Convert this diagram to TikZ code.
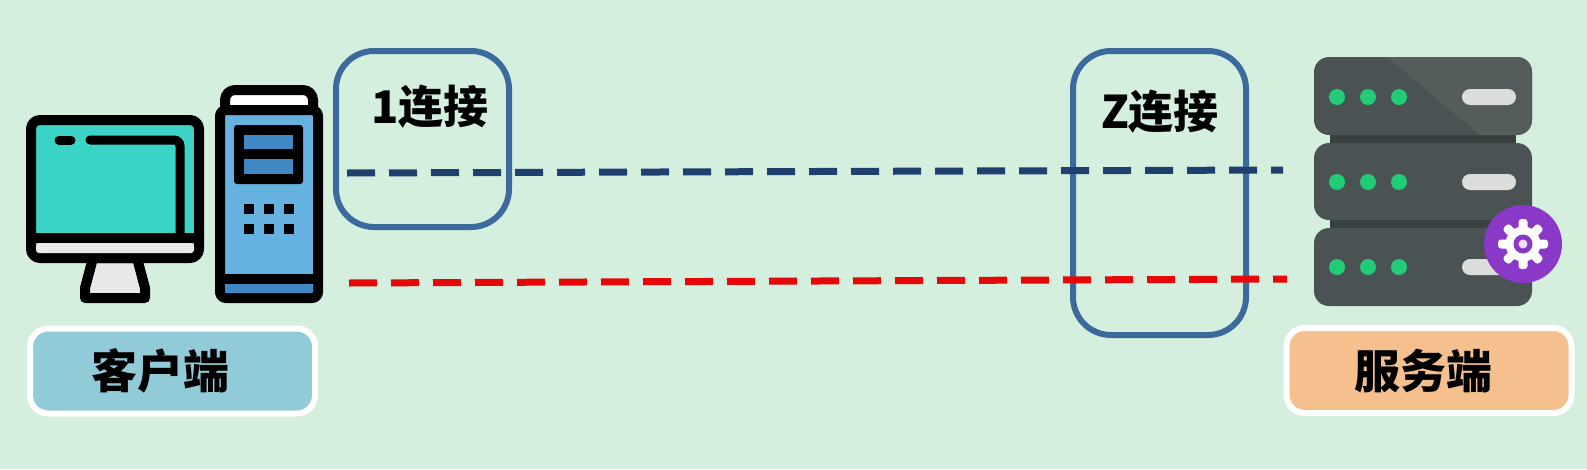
\documentclass[tikz,border=0pt]{standalone}
\usepackage{fontspec}
\newfontfamily\cjk{Noto Sans CJK SC}
\definecolor{bgc}{HTML}{D4EFDD}
\definecolor{boxc}{HTML}{3D6A9C}
\definecolor{bluedash}{HTML}{1F3F6F}
\definecolor{reddash}{HTML}{E60808}
\definecolor{teal1}{HTML}{3BD3C6}
\definecolor{lightg}{HTML}{E8E9E6}
\definecolor{tower}{HTML}{65B2E0}
\definecolor{towerd}{HTML}{4088C4}
\definecolor{srv}{HTML}{4B5254}
\definecolor{srvl}{HTML}{555D5C}
\definecolor{srvd}{HTML}{3A403F}
\definecolor{led}{HTML}{22CC77}
\definecolor{pill}{HTML}{DCDEDC}
\definecolor{purp}{HTML}{8A38C8}
\definecolor{clientc}{HTML}{92CBD8}
\definecolor{serverc}{HTML}{F5C08E}
\tikzset{
  x=1pt,y=-1pt,
  tag/.style={draw=white,line width=6pt,rounded corners=18pt,minimum width=285pt,minimum height=85pt,inner sep=0pt},
  tagtext/.style={inner sep=0pt,font=\cjk\bfseries\fontsize{46}{46}\selectfont,text=black},
  linkbox/.style={draw=boxc,line width=6pt,rounded corners=38pt,minimum width=173pt,inner sep=0pt},
  linktext/.style={inner sep=0pt,font=\cjk\bfseries\fontsize{45}{45}\selectfont,text=black},
  linkline/.style={line width=7pt,dash pattern=on 28pt off 14pt},
  ol/.style={draw=black,line width=10pt,line join=round},
  unit/.style={fill=srv,rounded corners=15pt},
  ledm/.style={fill=led},
  pillm/.style={fill=pill,rounded corners=8pt},
}
\begin{document}
\begin{tikzpicture}
\fill[bgc] (0,0) rectangle (1587,469);
\useasboundingbox (0,0) rectangle (1587,469);
% link boxes
\node[linkbox,minimum height=176pt] (box1) at (422.5,139) {};
\node[linkbox,minimum height=284pt] (box2) at (1159.5,193) {};
\node[linktext] (t1) at (430,107) {1连接};
\node[linktext] (t2) at (1160,112) {Z连接};
% connections
\coordinate (bs) at (347,173);
\coordinate (be) at (1283,170);
\coordinate (rs) at (349,283);
\coordinate (re) at (1287,279);
\draw[linkline,bluedash] (bs) -- (be);
\draw[linkline,reddash] (rs) -- (re);
% monitor
\filldraw[ol,fill=lightg] (93,258) -- (85,288) -- (85,298) -- (145,298) -- (145,288) -- (137,258) -- cycle;
\draw[ol,fill=teal1,rounded corners=9pt] (31,120) rectangle (199,258);
\fill[lightg,rounded corners=3pt] (36,243) rectangle (194,253);
\draw[black,line width=10pt] (31,238) -- (199,238);
\draw[black,line width=9pt,line cap=round] (59,140) -- (71,140);
\draw[black,line width=9pt,line cap=round,rounded corners=6pt] (90,140) -- (180,140) -- (180,238);
% tower
\draw[ol,fill=white,rounded corners=10pt] (225,115) -- (225,90) -- (313,90) -- (313,115);
\draw[ol,fill=tower,rounded corners=6pt] (220,110) rectangle (318,298);
\fill[towerd,rounded corners=3pt] (225,284) rectangle (313,293);
\draw[black,line width=10pt] (220,279) -- (318,279);
\fill[black,rounded corners=3pt] (234,125) rectangle (303,184);
\fill[towerd] (244,135) rectangle (293,149);
\fill[towerd] (244,159) rectangle (293,174);
\foreach \px in {244,264,284}
  \foreach \py in {204,224}
    \fill[black] (\px,\py) rectangle ++(9.5,10);
% server
\fill[srvd] (1330,130) rectangle (1516,235);
\fill[srvl] (1330,143) rectangle (1516,150);
\fill[srvl] (1330,228) rectangle (1516,235);
\fill[unit] (1314,57) rectangle (1532,135);
\fill[unit] (1314,143) rectangle (1532,220);
\fill[unit] (1314,228) rectangle (1532,306);
\fill[srvl] (1387,57) -- (1517,57) to[out=0,in=90] (1532,72) -- (1532,120) to[out=-90,in=0] (1517,135) -- (1480,135) -- cycle;
\foreach \py in {97,182,267}{
  \foreach \px in {1337,1368,1399}
    \fill[ledm] (\px,\py) circle[radius=8];
  \fill[pillm] (1462,\py-8) rectangle (1516,\py+8);
}
% gear badge
\fill[purp] (1523,244) circle[radius=39];
\foreach \a in {0,45,...,315}
  \fill[white,rotate around={\a:(1523,244)},rounded corners=3pt] (1518.5,219) rectangle (1527.5,234);
\fill[white] (1523,244) circle[radius=17.5];
\fill[purp] (1523,244) circle[radius=9.5];
\fill[white!85!purp] (1523,244) circle[radius=4.5];
% tags
\node[tag,fill=clientc] (client) at (172.5,371) {};
\node[tag,fill=serverc] (server) at (1429,370.5) {};
\node[tagtext] (clientt) at (160.5,371) {客户端};
\node[tagtext] (servert) at (1423,371) {服务端};
\end{tikzpicture}
\end{document}
